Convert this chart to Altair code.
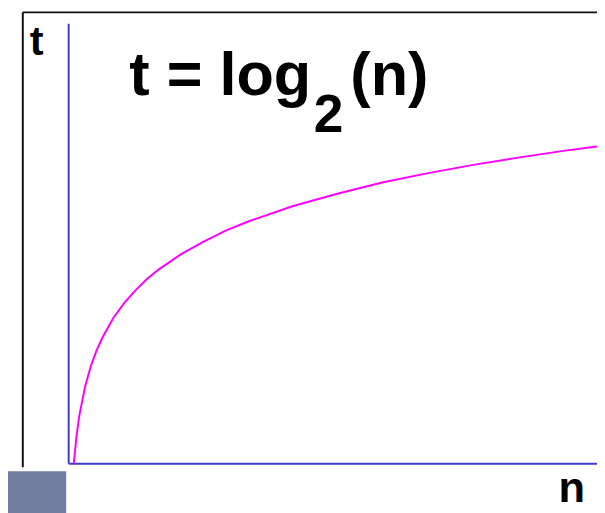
import altair as alt
import pandas as pd

# values
n_vals = [1, 1.5, 2, 3, 4, 5, 6, 8, 10, 12, 14, 16, 20, 24, 28, 32, 40, 48, 56, 64, 72, 80, 88, 94]
t_vals = [0, 0.58, 1.0, 1.58, 2.0, 2.32, 2.58, 3.0, 3.32, 3.58, 3.81, 4.0, 4.32, 4.58, 4.81,
          5.0, 5.32, 5.58, 5.81, 6.0, 6.17, 6.32, 6.46, 6.55]
x_domain = [0, 94]
y_domain = [0, 9.1]
title_main = "t = log"
title_sub = "2"
title_tail = "(n)"
x_label = "n"
y_label = "t"

df = pd.DataFrame({"n": n_vals, "t": t_vals})
one = pd.DataFrame({"k": [0]})

BLUE = "#3c3ccf"
FONT = "Liberation Sans"

curve = alt.Chart(df).mark_line(color="#ff00ff", strokeWidth=2).encode(
    x=alt.X("n:Q", scale=alt.Scale(domain=x_domain, nice=False, zero=False),
            axis=alt.Axis(title=None, labels=False, ticks=False, grid=False,
                          domainColor=BLUE, domainWidth=2)),
    y=alt.Y("t:Q", scale=alt.Scale(domain=y_domain, nice=False, zero=False),
            axis=alt.Axis(title=None, labels=False, ticks=False, grid=False,
                          domainColor=BLUE, domainWidth=2)),
)

frame_left = alt.Chart(one).mark_rule(color="#111111", strokeWidth=2).encode(
    x=alt.value(-46), y=alt.value(-11), y2=alt.value(450))
frame_top = alt.Chart(one).mark_rule(color="#111111", strokeWidth=2).encode(
    x=alt.value(-46), x2=alt.value(540), y=alt.value(-11))
corner = alt.Chart(one).mark_rect(color="#737da0").encode(
    x=alt.value(-61), x2=alt.value(-2), y=alt.value(454), y2=alt.value(500))

def txt(s, x, y, size):
    return alt.Chart(one).mark_text(text=s, font=FONT, fontWeight="bold", fontSize=size,
                                    align="left", baseline="alphabetic", color="black").encode(
        x=alt.value(x), y=alt.value(y))

t_lab = txt(y_label, -39, 32, 42)
n_lab = txt(x_label, 497, 485, 44)
ttl1 = txt(title_main, 62, 73, 62)
ttl2 = txt(title_sub, 249, 110, 54)
ttl3 = txt(title_tail, 286, 73, 62)

chart = alt.layer(curve, frame_left, frame_top, corner, t_lab, n_lab, ttl1, ttl2, ttl3).properties(
    width=536, height=446,
    autosize=alt.AutoSizeParams(type="none"),
    padding={"left": 61, "top": 12, "right": 0, "bottom": 47},
).configure_view(stroke=None)

chart.save("out.html", embed_options={"renderer": "svg", "actions": False})
